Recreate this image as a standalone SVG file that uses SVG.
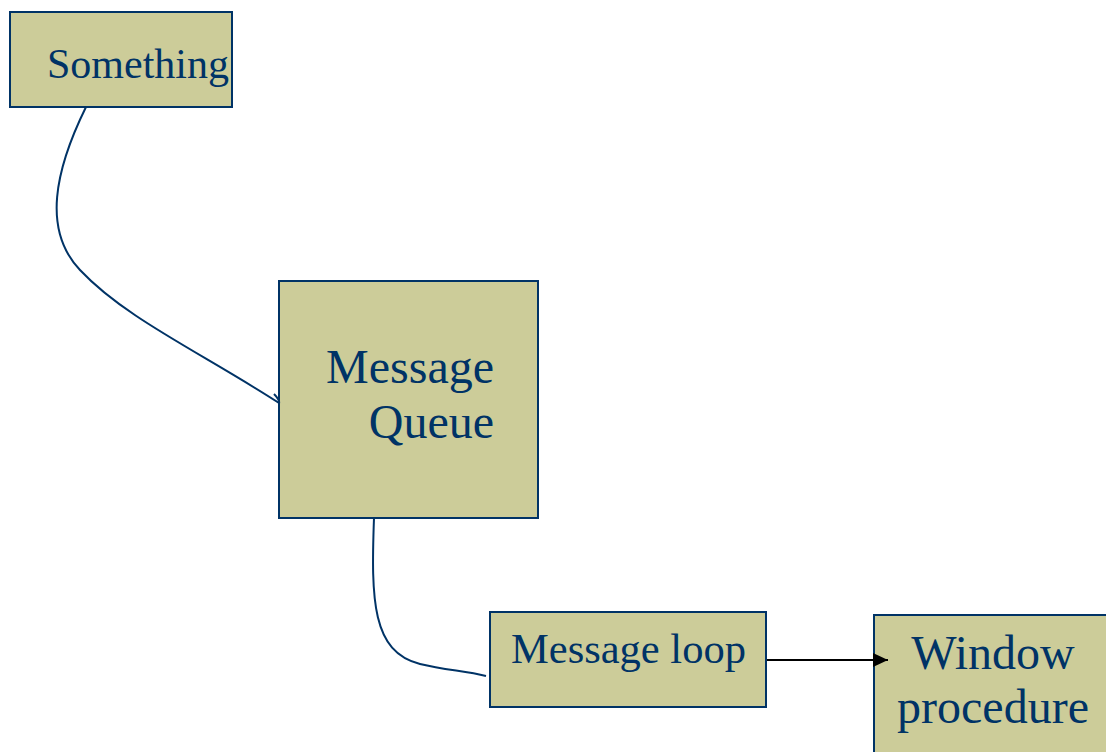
<svg xmlns="http://www.w3.org/2000/svg" width="1106" height="752" viewBox="0 0 1106 752">
<defs>
<style>
.box{fill:#cccc99;stroke:#003366;stroke-width:2}
.t{font-family:"Liberation Serif","Times New Roman",serif;fill:#003366}
.c{fill:none;stroke:#003366;stroke-width:2}
</style>
<marker id="ah" markerWidth="16" markerHeight="14" refX="15" refY="7" orient="auto" markerUnits="userSpaceOnUse">
<path d="M0,0 L15,7 L0,14 z" fill="#000"/>
</marker>
</defs>
<rect width="1106" height="752" fill="#fff"/>
<g id="something">
<rect class="box" x="10" y="12" width="222" height="95"/>
<text class="t" x="47" y="78" font-size="42">Something</text>
</g>
<g id="queue">
<rect class="box" x="279" y="281" width="259" height="237"/>
<text class="t" font-size="48" text-anchor="end"><tspan x="494" y="383">Message</tspan><tspan x="494" y="438">Queue</tspan></text>
</g>
<g id="loop">
<rect class="box" x="490" y="612" width="276" height="95"/>
<text class="t" x="511" y="663" font-size="42.5">Message loop</text>
</g>
<g id="window">
<rect class="box" x="874" y="615" width="240" height="145"/>
<text class="t" font-size="48" text-anchor="middle"><tspan x="993" y="669">Window</tspan><tspan x="993" y="723">procedure</tspan></text>
</g>
<g id="connectors">
<path class="c" d="M86,107 C55,170 42,230 80,270 C125,318 200,352 279,403"/>
<path class="c" d="M274,394 C278,398 280,401 279,404" stroke-width="1.6"/>
<path class="c" d="M374,518 C371,600 372,652 420,664 C445,670 465,671 486,676"/>
<line x1="767" y1="660" x2="888" y2="660" stroke="#000" stroke-width="2" marker-end="url(#ah)"/>
</g>
</svg>
